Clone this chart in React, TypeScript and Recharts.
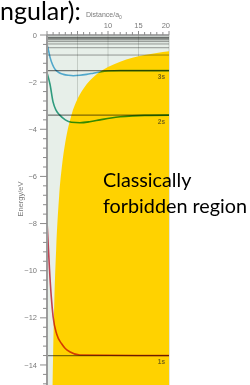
import React from 'react';
import { ComposedChart, Line, Area, XAxis, YAxis, CartesianGrid, ReferenceLine } from 'recharts';

// Distance r / a0 and energy / eV values
const potentialR = [0.9, 1.0, 1.2, 1.5, 2.0, 2.5, 3.0, 4.0, 5.0, 6.0, 8.0, 10, 12, 14, 16, 18, 20];
const potentialE = [-15.1, -13.6, -11.3, -9.1, -6.8, -5.45, -4.55, -3.4, -2.72, -2.27, -1.7, -1.36, -1.13, -0.97, -0.85, -0.76, -0.69];

const oneSR = [0, 0.2, 0.4, 0.7, 1.0, 1.6, 2.4, 3.0, 3.8, 5.4, 20];
const oneSE = [-7.9, -8.9, -9.9, -11.1, -11.95, -12.7, -13.1, -13.3, -13.45, -13.58, -13.6];

const twoSR = [0, 0.5, 1.0, 1.5, 2.1, 3.0, 4, 5.4, 7, 8.7, 10.5, 12, 14, 16, 20];
const twoSE = [-1.6, -2.1, -2.85, -3.2, -3.4, -3.6, -3.7, -3.72, -3.68, -3.6, -3.52, -3.47, -3.43, -3.41, -3.4];

const threeSR = [0, 0.2, 0.5, 0.9, 1.3, 2, 2.7, 3.5, 4.3, 5.4, 6.5, 7.6, 8.7, 10, 12, 20];
const threeSE = [-0.4, -0.6, -0.95, -1.25, -1.45, -1.6, -1.67, -1.71, -1.73, -1.71, -1.67, -1.62, -1.57, -1.53, -1.51, -1.51];

const levelE = [-13.6, -3.4, -1.51, -0.85, -0.54, -0.38, -0.28, -0.21, -0.17, -0.14, -0.11, -0.09];
const levelLabels = ['1s', '2s', '3s'];

const xTickLabels = [10, 15, 20];
const xGridValues = [5, 10, 15, 20];
const yMajorLabels = [0, -2, -4, -6, -8, -10, -12, -14];

const xDomain: [number, number] = [0, 20];
const yDomain: [number, number] = [-14.85, 0];
const xTicks = Array.from({ length: 21 }, (_, i) => i);
const yTicks = Array.from({ length: 38 }, (_, i) => -Math.round(i * 4) / 10);

const toRows = (rs: number[], es: number[]) => rs.map((r, i) => ({ r, e: es[i] }));

const AXIS_GREY = '#8c8c8c';
const LABEL_GREY = '#7a7a7a';

const XTick = (props: any) => {
  const { x, y, payload } = props;
  const v = payload.value;
  const major = v % 5 === 0;
  const axisY = y + 7;
  return (
    <g>
      <line x1={x} x2={x} y1={axisY - (major ? 4 : 3)} y2={axisY} stroke={AXIS_GREY} strokeWidth={1} />
      {xTickLabels.includes(v) && (
        <text x={v === 20 ? x + 1 : x} y={y} textAnchor={v === 20 ? 'end' : 'middle'} fontSize={7.5}
          fontFamily="Liberation Sans, Arial, sans-serif" fill={LABEL_GREY}>{v}</text>
      )}
    </g>
  );
};

const YTick = (props: any) => {
  const { x, y, payload } = props;
  const v = payload.value;
  const rounded = Math.round(v * 10) / 10;
  const major = yMajorLabels.some((m) => Math.abs(m - rounded) < 1e-6);
  return (
    <g>
      <line x1={x + (major ? 3 : 6)} x2={x + 10} y1={y} y2={y} stroke={AXIS_GREY} strokeWidth={1} />
      {major && (
        <text x={x} y={y} dy={2.6} textAnchor="end" fontSize={7.5}
          fontFamily="Liberation Sans, Arial, sans-serif" fill={LABEL_GREY}>
          {Math.abs(rounded) < 1e-6 ? '0' : '\u2212' + Math.abs(rounded)}
        </text>
      )}
    </g>
  );
};

export default function App() {
  return (
    <div style={{ position: 'absolute', left: 0, top: 0, width: 250, height: 385, overflow: 'hidden', background: '#fff' }}>
      <style>{`
        .recharts-line path { mix-blend-mode: multiply; }
        .recharts-reference-line line { mix-blend-mode: multiply; }
      `}</style>
      <ComposedChart width={250} height={385} margin={{ top: 0, right: 81, bottom: 0, left: 0 }}>
        <CartesianGrid horizontal={false} verticalValues={xGridValues} stroke="#c4ccc5" fill="#e7efe9" />
        <XAxis type="number" dataKey="r" orientation="top" domain={xDomain} ticks={xTicks} interval={0}
          allowDataOverflow height={35} tickSize={3} tickMargin={4} tickLine={false}
          axisLine={{ stroke: '#8a8a8a', strokeWidth: 1.5 }} tick={(p: any) => <XTick {...p} />} />
        <YAxis type="number" dataKey="e" domain={yDomain} ticks={yTicks} interval={0} allowDataOverflow
          width={47} tickSize={7} tickMargin={3} tickLine={false}
          axisLine={{ stroke: '#9c9c9c', strokeWidth: 2 }} tick={(p: any) => <YTick {...p} />} />
        <Area data={toRows(potentialR, potentialE)} dataKey="e" type="monotone" baseValue={yDomain[0]}
          stroke="none" fill="#ffd200" fillOpacity={1} isAnimationActive={false} />
        {levelE.map((e, i) => (
          <ReferenceLine key={'lv' + i} y={e} stroke={i < 3 ? '#7d7d7d' : '#a0a0a0'} strokeWidth={i < 3 ? 1.3 : 1}
            label={i < 3 ? { value: levelLabels[i], position: 'insideTopRight', offset: 4, fontSize: 6.5,
              fontWeight: 'bold', fill: '#7a6614', fontFamily: 'Liberation Sans, Arial, sans-serif' } : undefined} />
        ))}
        <Line data={toRows(threeSR, threeSE)} dataKey="e" type="monotone" stroke="#58b2de" strokeWidth={1.6}
          dot={false} isAnimationActive={false} />
        <Line data={toRows(twoSR, twoSE)} dataKey="e" type="monotone" stroke="#34a68a" strokeWidth={1.6}
          dot={false} isAnimationActive={false} />
        <Line data={toRows(oneSR, oneSE)} dataKey="e" type="monotone" stroke="#d4485a" strokeWidth={1.6}
          dot={false} isAnimationActive={false} />
      </ComposedChart>
      <div style={{ position: 'absolute', left: 0, top: 0, fontFamily: 'Lato, sans-serif', fontSize: 25,
        lineHeight: '20px', height: 20, color: '#000', whiteSpace: 'nowrap' }}>ngular):</div>
      <div style={{ position: 'absolute', left: 86, top: 10, fontFamily: 'Liberation Sans, Arial, sans-serif',
        fontSize: 7, lineHeight: '9px', color: LABEL_GREY, whiteSpace: 'nowrap' }}>
        Distance/a<sub style={{ fontSize: 5, verticalAlign: 'sub', lineHeight: 0 }}>0</sub>
      </div>
      <div style={{ position: 'absolute', left: 20, top: 199, width: 0, height: 0 }}>
        <div style={{ position: 'absolute', transform: 'translate(-50%, -50%) rotate(-90deg)',
          fontFamily: 'Liberation Sans, Arial, sans-serif', fontSize: 7.5, lineHeight: '9px', color: LABEL_GREY,
          whiteSpace: 'nowrap' }}>Energy/eV</div>
      </div>
      <div style={{ position: 'absolute', left: 103, top: 166, fontFamily: 'Lato, sans-serif', fontSize: 19.8,
        lineHeight: '26px', color: '#000', whiteSpace: 'nowrap' }}>
        Classically<br />forbidden region
      </div>
    </div>
  );
}
